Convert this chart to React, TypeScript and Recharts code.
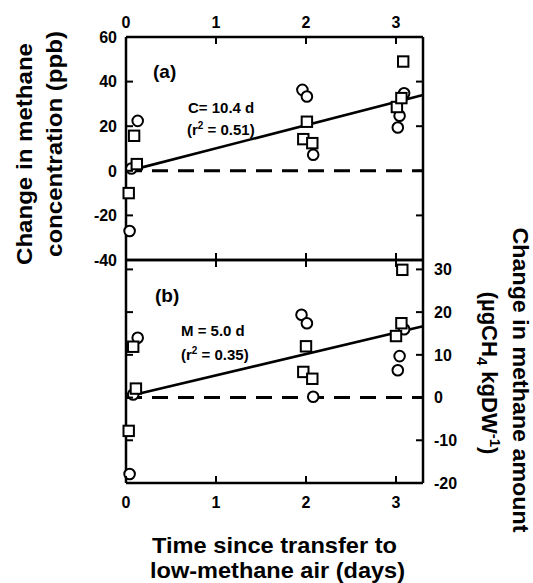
import React from "react";
import { ComposedChart, ReferenceLine, Scatter, XAxis, YAxis } from "recharts";

const W = 533;
const H = 583;
const FONT = "'Liberation Sans', Arial, Helvetica, sans-serif";

const DAY_TICKS = [0, 1, 2, 3];
const CONC_TICKS = [-40, -20, 0, 20, 40, 60];
const AMOUNT_TICKS = [-20, -10, 0, 10, 20, 30];

// panel (a): change in concentration, ppb
const concCircleDays = [0.04, 0.06, 0.13, 1.96, 2.01, 2.08, 3.02, 3.04, 3.09];
const concCircleVals = [-27, 1, 22.4, 36.3, 33.3, 7.2, 19.4, 24.7, 34.8];
const concSquareDays = [0.03, 0.09, 0.12, 1.97, 2.01, 2.07, 3.01, 3.06, 3.08];
const concSquareVals = [-10, 15.7, 3, 14.2, 22, 12.4, 28.6, 32.6, 49];
const concFitDays = [0.06, 3.3];
const concFitVals = [0.3, 34];

// panel (b): change in amount, µgCH4 kgDW-1
const amtCircleDays = [0.04, 0.08, 0.13, 1.95, 2.01, 2.08, 3.02, 3.04, 3.09];
const amtCircleVals = [-17.9, 0.7, 14, 19.4, 17.4, 0.2, 6.4, 9.7, 16];
const amtSquareDays = [0.03, 0.08, 0.11, 1.97, 2.0, 2.07, 3.0, 3.06, 3.07];
const amtSquareVals = [-7.8, 11.9, 2.1, 6, 12, 4.4, 14.4, 17.4, 29.9];
const amtFitDays = [0.08, 3.3];
const amtFitVals = [0.6, 16.7];

const zip = (xs: number[], ys: number[]) => xs.map((x, i) => ({ x, y: ys[i] }));

const AXIS = { stroke: "#000", strokeWidth: 2.5 };
const TICK_LEN = 7;
const tickText = { fontFamily: FONT, fontSize: 16, fontWeight: 700, fill: "#000", stroke: "none" };

type Side = "left" | "right" | "top" | "bottom";

// inward tick marks, labels outside (tickSize 0 puts x/y on the axis line)
function makeTick(side: Side, showLabel: boolean) {
  return function Tick(props: any) {
    const { x, y, payload } = props;
    const v = payload?.value;
    let line;
    let label = null;
    if (side === "left") {
      line = <line x1={x} y1={y} x2={x + TICK_LEN} y2={y} />;
      if (showLabel) label = <text x={x - 9} y={y} dy="0.36em" textAnchor="end" {...tickText}>{v}</text>;
    } else if (side === "right") {
      line = <line x1={x} y1={y} x2={x - TICK_LEN} y2={y} />;
      if (showLabel) label = <text x={x + 11} y={y} dy="0.36em" textAnchor="start" {...tickText}>{v}</text>;
    } else if (side === "top") {
      line = <line x1={x} y1={y} x2={x} y2={y + TICK_LEN} />;
      if (showLabel) label = <text x={x} y={y - 9} textAnchor="middle" {...tickText}>{v}</text>;
    } else {
      line = <line x1={x} y1={y} x2={x} y2={y - TICK_LEN} />;
      if (showLabel) label = <text x={x} y={y + 25} textAnchor="middle" {...tickText}>{v}</text>;
    }
    return (
      <g>
        <g stroke="#000" strokeWidth={2}>{line}</g>
        {label}
      </g>
    );
  };
}

const Circle = (p: any) => (
  <circle cx={p.cx} cy={p.cy} r={5.3} fill="#fff" stroke="#000" strokeWidth={2} />
);
const Square = (p: any) => (
  <rect x={p.cx - 5.2} y={p.cy - 5.2} width={10.4} height={10.4} fill="#fff" stroke="#000" strokeWidth={2} />
);
const NoDot = () => <g />;

const axisCommon = {
  tickSize: 0,
  tickMargin: 0,
  tickLine: false,
  axisLine: AXIS,
  interval: 0 as const,
  allowDataOverflow: true
};

function Panel({
  top,
  bottom,
  domain,
  ticks,
  labelSide,
  labelX,
  circles,
  squares,
  fit
}: {
  top: number;
  bottom: number;
  domain: [number, number];
  ticks: number[];
  labelSide: "left" | "right";
  labelX: "top" | "bottom";
  circles: { x: number; y: number }[];
  squares: { x: number; y: number }[];
  fit: { x: number; y: number }[];
}) {
  return (
    <div style={{ position: "absolute", left: 0, top: 0 }}>
      <ComposedChart width={W} height={H} margin={{ top, right: 80, bottom, left: 96 }}>
        <XAxis xAxisId="t" orientation="top" type="number" dataKey="x" domain={[0, 3.3]} ticks={DAY_TICKS}
          height={30} tick={makeTick("top", labelX === "top")} {...axisCommon} />
        <XAxis xAxisId="b" orientation="bottom" type="number" dataKey="x" domain={[0, 3.3]} ticks={DAY_TICKS}
          height={30} tick={makeTick("bottom", labelX === "bottom")} {...axisCommon} />
        <YAxis yAxisId="l" orientation="left" type="number" dataKey="y" domain={domain} ticks={ticks}
          width={30} tick={makeTick("left", labelSide === "left")} {...axisCommon} />
        <YAxis yAxisId="r" orientation="right" type="number" dataKey="y" domain={domain} ticks={ticks}
          width={30} tick={makeTick("right", labelSide === "right")} {...axisCommon} />
        <ReferenceLine xAxisId="t" yAxisId="l" y={0} stroke="#000" strokeWidth={3} strokeDasharray="16 10" />
        <Scatter xAxisId="t" yAxisId="l" data={fit} line={{ stroke: "#000", strokeWidth: 2.6 }} shape={NoDot}
          isAnimationActive={false} />
        <Scatter xAxisId="t" yAxisId="l" data={circles} shape={Circle} isAnimationActive={false} />
        <Scatter xAxisId="t" yAxisId="l" data={squares} shape={Square} isAnimationActive={false} />
      </ComposedChart>
    </div>
  );
}

const title = { fontFamily: FONT, fontSize: 22, fontWeight: 700, fill: "#000" };
const note = { fontFamily: FONT, fontSize: 15, fontWeight: 700, fill: "#000" };

export default function App() {
  return (
    <div style={{ position: "absolute", left: 0, top: 0, width: W, height: H, background: "#fff" }}>
      {/* markers sit on the frame in the original, so don't clip them to the plot box */}
      <style>{".recharts-scatter { clip-path: none !important; }"}</style>
      <Panel top={7} bottom={293} domain={[-40, 60]} ticks={CONC_TICKS} labelSide="left" labelX="top"
        circles={zip(concCircleDays, concCircleVals)} squares={zip(concSquareDays, concSquareVals)}
        fit={zip(concFitDays, concFitVals)} />
      <Panel top={230} bottom={70} domain={[-20, 32.2]} ticks={AMOUNT_TICKS} labelSide="right" labelX="bottom"
        circles={zip(amtCircleDays, amtCircleVals)} squares={zip(amtSquareDays, amtSquareVals)}
        fit={zip(amtFitDays, amtFitVals)} />
      <svg width={W} height={H} style={{ position: "absolute", left: 0, top: 0, pointerEvents: "none" }}>
        <text x={153} y={78} {...title} fontSize={19}>(a)</text>
        <text x={188} y={113} {...note}>C= 10.4 d</text>
        <text x={187} y={135} {...note}>
          (r<tspan dy={-6} fontSize={10}>2</tspan><tspan dy={6}> = 0.51)</tspan>
        </text>
        <text x={155} y={302} {...title} fontSize={19}>(b)</text>
        <text x={181} y={336} {...note}>M = 5.0 d</text>
        <text x={181} y={360} {...note}>
          (r<tspan dy={-6} fontSize={10}>2</tspan><tspan dy={6}> = 0.35)</tspan>
        </text>

        <text x={32} y={154} transform="rotate(-90 32 154)" textAnchor="middle" textLength={222}
          lengthAdjust="spacingAndGlyphs" {...title}>Change in methane</text>
        <text x={62} y={144} transform="rotate(-90 62 144)" textAnchor="middle" textLength={226}
          lengthAdjust="spacingAndGlyphs" {...title}>concentration (ppb)</text>

        <text x={513} y={380} transform="rotate(90 513 380)" textAnchor="middle" textLength={305}
          lengthAdjust="spacingAndGlyphs" {...title}>Change in methane amount</text>
        <text x={482} y={373} transform="rotate(90 482 373)" textAnchor="middle" {...title}>
          (µgCH<tspan dy={5} fontSize={15}>4</tspan>
          <tspan dy={-5}> kgDW</tspan>
          <tspan dy={-8} fontSize={15}>-1</tspan>
          <tspan dy={8}>)</tspan>
        </text>

        <text x={274.5} y={553} textAnchor="middle" textLength={245} lengthAdjust="spacingAndGlyphs" {...title}>
          Time since transfer to
        </text>
        <text x={277.5} y={578} textAnchor="middle" textLength={255} lengthAdjust="spacingAndGlyphs" {...title}>
          low-methane air (days)
        </text>
      </svg>
    </div>
  );
}
